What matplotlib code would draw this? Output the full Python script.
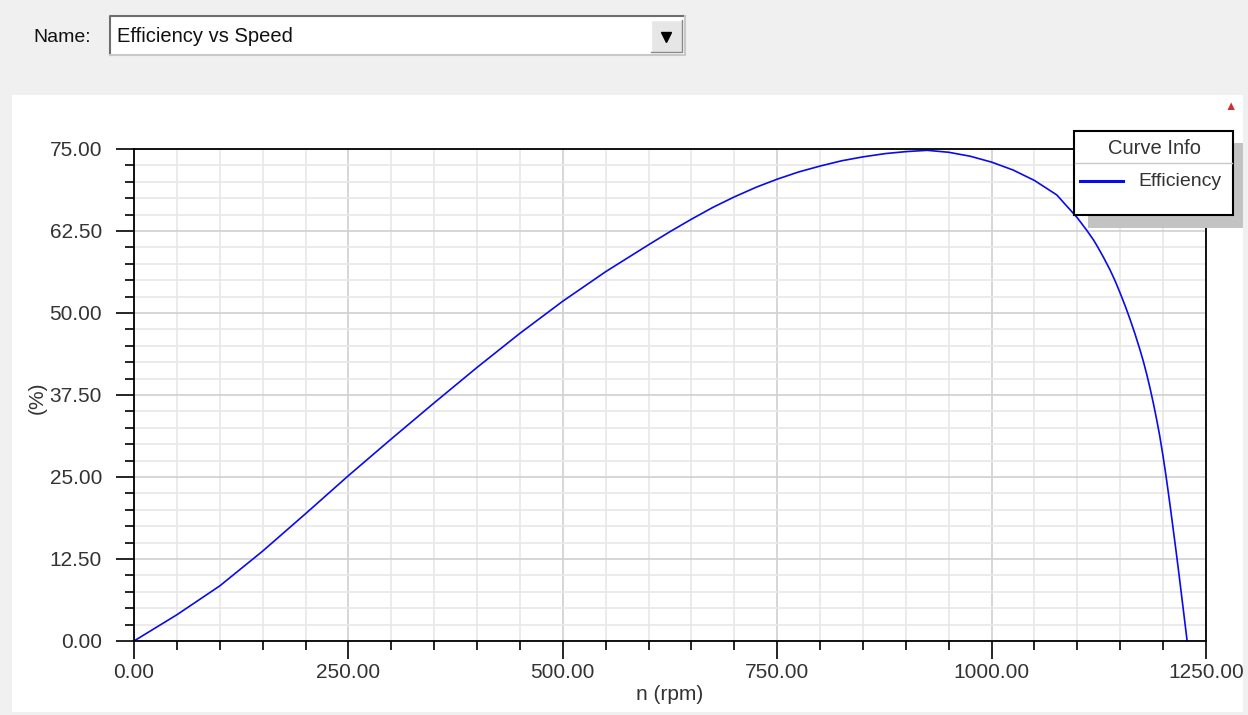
import matplotlib
matplotlib.use('Agg')
import matplotlib.pyplot as plt
from matplotlib.patches import Rectangle
from matplotlib.lines import Line2D
from matplotlib.ticker import MultipleLocator, FormatStrFormatter

plt.rcParams['font.family'] = ['Liberation Sans', 'DejaVu Sans']

# values
speed = [0, 50, 100, 150, 200, 250, 300, 350, 400, 450, 500, 550, 600, 625, 650, 675, 700, 726, 750, 775,
         800, 825, 850, 876, 900, 925, 950, 975, 1000, 1025, 1050, 1076, 1100, 1111, 1119, 1124, 1130, 1138,
         1144, 1150, 1156, 1161, 1167, 1173, 1177, 1181, 1185, 1189, 1193, 1196, 1200, 1203, 1206, 1209,
         1212, 1215, 1218, 1221, 1224, 1228]
efficiency = [0, 4.0, 8.4, 13.7, 19.4, 25.2, 30.8, 36.3, 41.7, 46.9, 51.8, 56.3, 60.4, 62.4, 64.3, 66.1,
              67.7, 69.2, 70.4, 71.5, 72.4, 73.2, 73.8, 74.3, 74.6, 74.8, 74.5, 73.9, 73.0, 71.8, 70.2, 68.0,
              64.5, 62.6, 61.1, 60.0, 58.6, 56.6, 54.9, 53.0, 51.0, 49.2, 46.9, 44.4, 42.6, 40.6, 38.4, 36.0,
              33.4, 31.3, 28.1, 25.5, 22.7, 19.8, 16.8, 13.8, 10.7, 7.5, 4.3, 0]
plot_name = 'Efficiency vs Speed'
series_name = 'Efficiency'
x_label = 'n (rpm)'
y_label = '(%)'

W, H = 1248, 715
fig = plt.figure(figsize=(W / 100, H / 100), dpi=100)
fig.patch.set_facecolor('#f0f0f0')


def fx(px):
    return px / W


def fy(py):
    return 1 - py / H


def frect(x0, y0, x1, y1, **kw):
    r = Rectangle((fx(x0), fy(y1)), fx(x1) - fx(x0), fy(y0) - fy(y1), transform=fig.transFigure, **kw)
    fig.patches.append(r)
    return r


def fline(xs, ys, **kw):
    ln = Line2D([fx(v) for v in xs], [fy(v) for v in ys], transform=fig.transFigure, **kw)
    fig.lines.append(ln)
    return ln


# window pieces
frect(12, 95, 1243, 712, facecolor='white', edgecolor='none', zorder=-10)
fig.text(fx(33), fy(37), 'Name:', fontsize=14, va='center', ha='left', color='#111111')
frect(110, 16, 685, 55, facecolor='white', edgecolor='none', zorder=-5)
fline([110, 110, 685], [55, 16, 16], color='#6e6e6e', linewidth=1.5, zorder=-4)
fline([110, 685, 685], [55, 55, 16], color='#c8c8c8', linewidth=1.5, zorder=-4)
fig.text(fx(117), fy(37), plot_name, fontsize=14.5, va='center', ha='left', color='#111111')
frect(651, 20, 682, 52, facecolor='#e6e6e6', edgecolor='none', zorder=-3)
fline([651, 651, 682], [52, 20, 20], color='#ffffff', linewidth=1, zorder=-2)
fline([651, 682, 682], [52, 52, 20], color='#8a8a8a', linewidth=1, zorder=-2)
fline([666], [37], marker='v', markersize=7, color='black')

ax = fig.add_axes([fx(134), fy(641), fx(1206) - fx(134), fy(149) - fy(641)])
ax.set_facecolor('white')
ax.plot(speed, efficiency, color='#0a0aee', linewidth=1.2)
ax.set_xlim(0, 1250)
ax.set_ylim(0, 75)
ax.xaxis.set_major_locator(MultipleLocator(250))
ax.xaxis.set_minor_locator(MultipleLocator(50))
ax.yaxis.set_major_locator(MultipleLocator(12.5))
ax.yaxis.set_minor_locator(MultipleLocator(2.5))
ax.xaxis.set_major_formatter(FormatStrFormatter('%.2f'))
ax.yaxis.set_major_formatter(FormatStrFormatter('%.2f'))
ax.grid(which='minor', color='#e8e8e8', linewidth=1.2)
ax.grid(which='major', color='#d0d0d0', linewidth=1.2)
ax.set_axisbelow(True)
for s in ax.spines.values():
    s.set_color('black')
    s.set_linewidth(1.3)
ax.tick_params(which='major', direction='out', length=13, width=1.2, labelsize=15, labelcolor='#333333',
               top=False, right=False)
ax.tick_params(axis='x', which='major', pad=3)
ax.tick_params(axis='y', which='major', pad=10)
ax.tick_params(which='minor', direction='out', length=6.5, width=1.2, top=False, right=False)

fig.text(fx(670), fy(694), x_label, fontsize=15, ha='center', va='center', color='#333333')
fig.text(fx(37), fy(398), y_label, fontsize=15, ha='center', va='center', rotation=90, color='#333333')

# curve info box
frect(1088, 143, 1243, 228, facecolor='#c3c3c3', edgecolor='none', zorder=10)
frect(1074, 131, 1233, 215, facecolor='white', edgecolor='black', linewidth=1.5, zorder=11)
fline([1075, 1232], [163, 163], color='#c8c8c8', linewidth=1, zorder=12)
fig.text(fx(1155), fy(148), 'Curve Info', fontsize=14.5, ha='center', va='center', color='#333333', zorder=12)
fline([1080, 1123], [181, 181], color='#0a0aee', linewidth=2.2, zorder=12)
fig.text(fx(1138), fy(182), series_name, fontsize=14, ha='left', va='center', color='#333333', zorder=12)
fig.text(fx(1231), fy(107), '▲', fontsize=9, ha='center', va='center', color='#d03030')

fig.savefig('out.png', dpi=100, facecolor=fig.get_facecolor())
